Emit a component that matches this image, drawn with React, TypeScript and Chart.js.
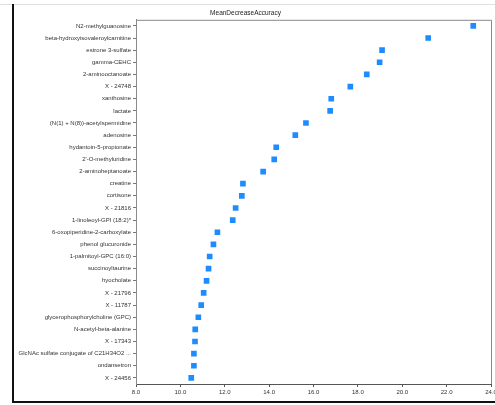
import React, { useEffect, useRef } from "react";
import { Chart, registerables } from "chart.js";

Chart.register(...registerables);

const categories = [
  "N2-methylguanosine",
  "beta-hydroxyisovaleroylcarnitine",
  "estrone 3-sulfate",
  "gamma-CEHC",
  "2-aminooctanoate",
  "X - 24748",
  "xanthosine",
  "lactate",
  "(N(1) + N(8))-acetylspermidine",
  "adenosine",
  "hydantoin-5-propionate",
  "2'-O-methyluridine",
  "2-aminoheptanoate",
  "creatine",
  "cortisone",
  "X - 21816",
  "1-linoleoyl-GPI (18:2)*",
  "6-oxopiperidine-2-carboxylate",
  "phenol glucuronide",
  "1-palmitoyl-GPC (16:0)",
  "succinoyltaurine",
  "hyocholate",
  "X - 21796",
  "X - 11787",
  "glycerophosphorylcholine (GPC)",
  "N-acetyl-beta-alanine",
  "X - 17343",
  "GlcNAc sulfate conjugate of C21H34O2 ...",
  "ondansetron",
  "X - 24456",
];

const meanDecreaseAccuracy = [
  23.2, 21.17, 19.09, 18.98, 18.4, 17.66, 16.8, 16.75, 15.66, 15.18,
  14.32, 14.23, 13.73, 12.82, 12.77, 12.49, 12.36, 11.67, 11.49, 11.32,
  11.27, 11.18, 11.05, 10.94, 10.81, 10.67, 10.66, 10.61, 10.61, 10.49,
];

const xTicks = [8, 10, 12, 14, 16, 18, 20, 22, 24];
const titleText = "MeanDecreaseAccuracy";

const FONT = "'Liberation Sans', Arial, sans-serif";

export default function App() {
  const ref = useRef<HTMLCanvasElement | null>(null);

  useEffect(() => {
    if (!ref.current) return;
    const boxPlugin = {
      id: "boxPlugin",
      afterDatasetsDraw(chart: any) {
        const { ctx, chartArea } = chart;
        ctx.save();
        ctx.strokeStyle = "#8a8a8a";
        ctx.lineWidth = 1;
        ctx.beginPath();
        ctx.moveTo(chartArea.left, chartArea.top + 0.5);
        ctx.lineTo(chartArea.right + 0.5, chartArea.top + 0.5);
        ctx.lineTo(chartArea.right + 0.5, chartArea.bottom);
        ctx.stroke();
        ctx.restore();
      },
    };
    const chart = new Chart(ref.current, {
      type: "line",
      data: {
        labels: categories,
        datasets: [
          {
            data: meanDecreaseAccuracy,
            showLine: false,
            pointStyle: "rect",
            pointRadius: 4,
            pointBorderWidth: 0,
            pointBackgroundColor: "#1e8cff",
            pointBorderColor: "#1e8cff",
          },
        ],
      },
      options: {
        indexAxis: "y",
        animation: false,
        responsive: false,
        layout: { padding: { left: 0, right: 33, top: 0, bottom: 0 } },
        plugins: {
          legend: { display: false },
          tooltip: { enabled: false },
          title: {
            display: true,
            text: titleText,
            color: "#222",
            font: { family: FONT, size: 6.5, weight: "normal" },
            padding: { top: 9, bottom: 3 },
          },
        },
        scales: {
          x: {
            type: "linear",
            min: 8,
            max: 24,
            afterBuildTicks: (scale: any) => {
              scale.ticks = xTicks.map((v) => ({ value: v }));
            },
            afterFit: (scale: any) => {
              scale.height = 21;
            },
            ticks: {
              color: "#333",
              font: { family: FONT, size: 6 },
              padding: 2,
              maxRotation: 0,
              callback: (v: any) => Number(v).toFixed(1),
            },
            grid: {
              drawOnChartArea: false,
              drawTicks: true,
              tickLength: 3,
              color: "#555",
            },
            border: { color: "#555", width: 1 },
          },
          y: {
            type: "category",
            offset: true,
            afterFit: (scale: any) => {
              scale.width = 136;
            },
            ticks: {
              color: "#333",
              font: { family: FONT, size: 6 },
              padding: 2,
              autoSkip: false,
            },
            grid: {
              drawOnChartArea: false,
              drawTicks: true,
              tickLength: 3,
              color: "#777",
              offset: false,
            },
            border: { color: "#8a8a8a", width: 1 },
          },
        },
      },
      plugins: [boxPlugin],
    } as any);
    return () => chart.destroy();
  }, []);

  return (
    <div
      style={{
        position: "fixed",
        left: 0,
        top: 0,
        width: 495,
        height: 405,
        overflow: "hidden",
        background: "#fff",
      }}
    >
      <canvas ref={ref} width={524} height={405} style={{ display: "block" }} />
      <div style={{ position: "absolute", left: 0, top: 4, width: 495, height: 1, background: "#e0e0e0" }} />
      <div style={{ position: "absolute", left: 12, top: 4, width: 2, height: 399, background: "#111" }} />
      <div style={{ position: "absolute", left: 12, top: 401, width: 483, height: 2, background: "#111" }} />
    </div>
  );
}
